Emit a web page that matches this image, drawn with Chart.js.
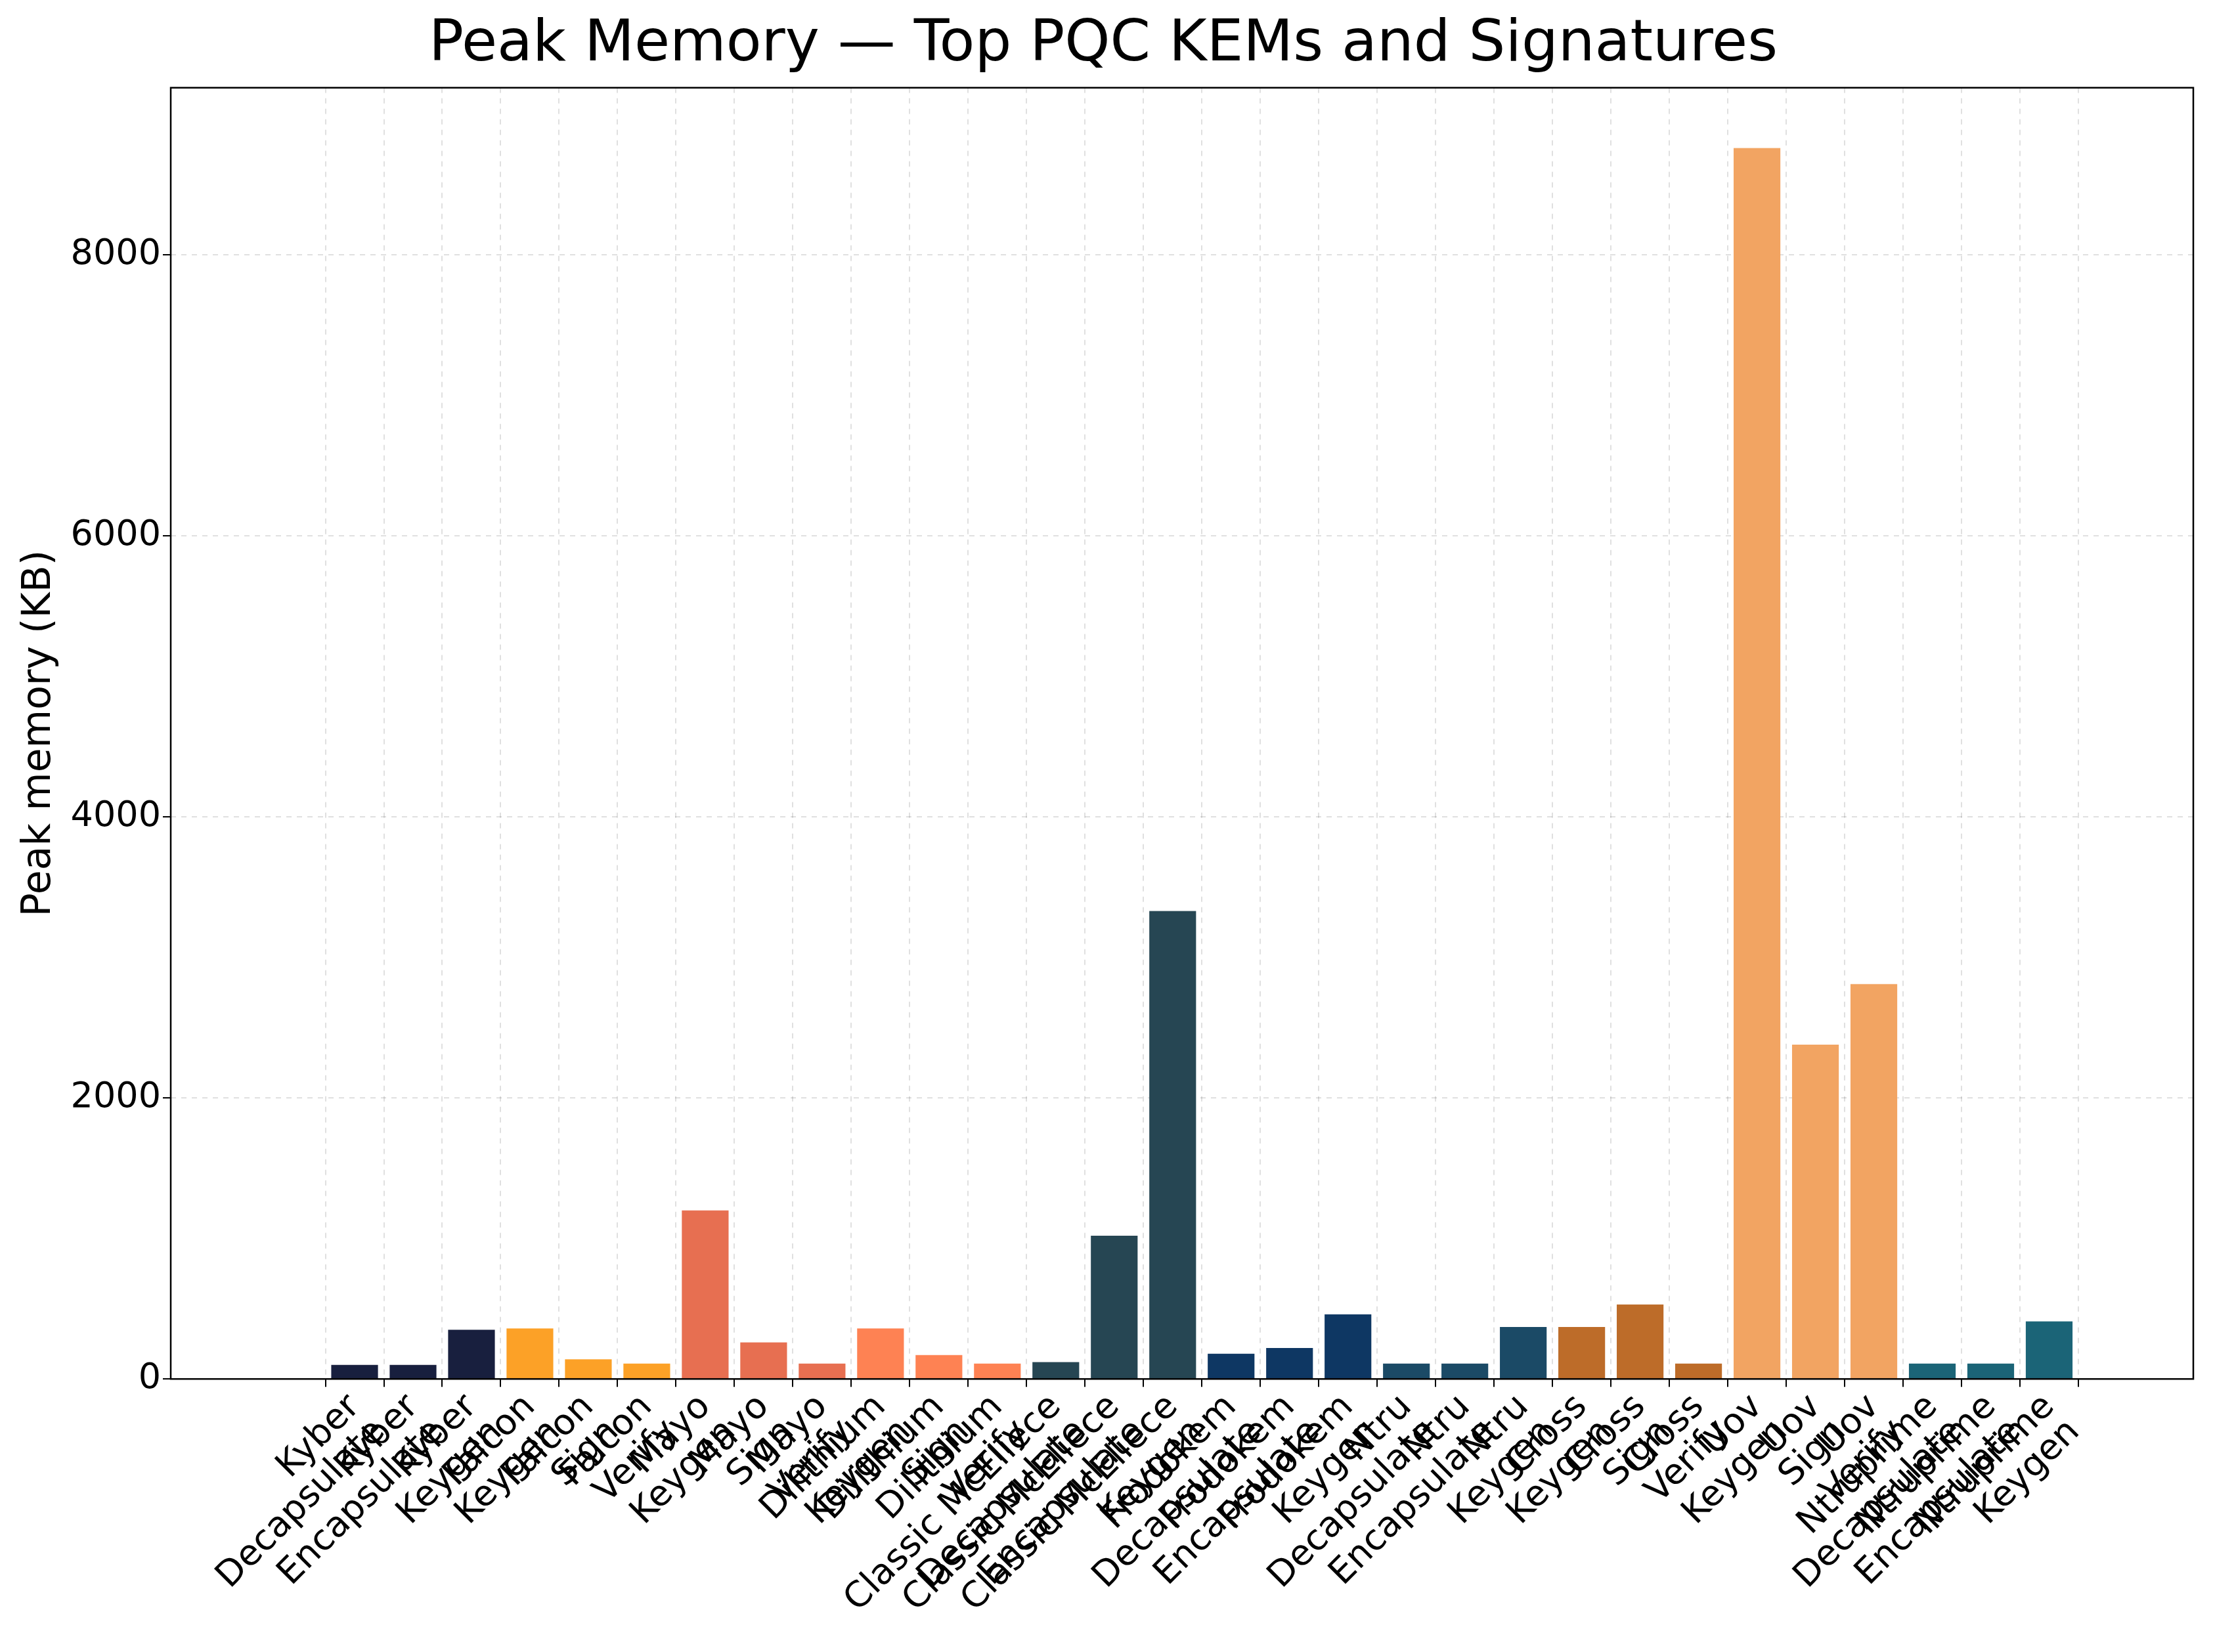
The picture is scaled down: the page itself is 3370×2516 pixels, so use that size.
<!DOCTYPE html>
<html><head><meta charset="utf-8">
<script src="https://cdn.jsdelivr.net/npm/chart.js@4/dist/chart.umd.min.js"></script>
<style>html,body{margin:0;background:#fff}#wrap{width:3370px;height:2516px}</style>
</head><body><div id="wrap"><canvas id="c"></canvas></div>
<script>
const algos = ['Kyber','Kyber','Kyber','Falcon','Falcon','Falcon','Mayo','Mayo','Mayo','Dilithium','Dilithium','Dilithium',
  'Classic McEliece','Classic McEliece','Classic McEliece','Frodokem','Frodokem','Frodokem','Ntru','Ntru','Ntru',
  'Cross','Cross','Cross','Uov','Uov','Uov','Ntruprime','Ntruprime','Ntruprime'];
const ops = ['Decapsulate','Encapsulate','Keygen','Keygen','Sign','Verify','Keygen','Sign','Verify','Keygen','Sign','Verify',
  'Decapsulate','Encapsulate','Keygen','Decapsulate','Encapsulate','Keygen','Decapsulate','Encapsulate','Keygen',
  'Keygen','Sign','Verify','Keygen','Sign','Verify','Decapsulate','Encapsulate','Keygen'];
const peakKB = [100,100,350, 360,140,110, 1200,260,110, 360,170,110, 120,1020,3330, 180,220,460, 110,110,370,
  370,530,110, 8760,2380,2810, 110,110,410];
const groupColors = {'Kyber':'#181f3e','Falcon':'#fca127','Mayo':'#e76f51','Dilithium':'#fe8253','Classic McEliece':'#264653',
  'Frodokem':'#0e3763','Ntru':'#1b4a66','Cross':'#bd6c29','Uov':'#f2a462','Ntruprime':'#1b6477'};
const yTicks = [0,2000,4000,6000,8000];

const frame = {id:'frame', afterDraw(ch){const a=ch.chartArea,g=ch.ctx;g.save();g.strokeStyle='#000';g.lineWidth=2.5;
  g.strokeRect(a.left,a.top,a.right-a.left,a.bottom-a.top);g.restore();}};

new Chart(document.getElementById('c'), {
  type:'bar',
  data:{datasets:[{data:peakKB.map((v,i)=>({x:i,y:v})),backgroundColor:algos.map(a=>groupColors[a]),
    barPercentage:0.8,categoryPercentage:1}]},
  options:{responsive:true,maintainAspectRatio:false,animation:false,
    layout:{padding:{top:16,right:30,left:20,bottom:10}},
    plugins:{legend:{display:false},tooltip:{enabled:false},
      title:{display:true,text:'Peak Memory — Top PQC KEMs and Signatures',color:'#000',
        font:{family:'DejaVu Sans',size:88,weight:'normal'},padding:{top:0,bottom:12}}},
    scales:{
      x:{type:'linear',min:-2.57,max:30.89,
        afterBuildTicks(s){s.ticks=peakKB.map((_,i)=>({value:i}));},
        ticks:{autoSkip:false,maxRotation:45,minRotation:45,color:'#000',
          font:{family:'DejaVu Sans',size:54,lineHeight:1.0},callback:(v)=>[algos[v],ops[v]]},
        grid:{color:'rgba(0,0,0,0.12)',lineWidth:2,drawTicks:true,tickColor:'#000',tickLength:12},
        border:{dash:[8,8],display:false}},
      y:{min:0,max:9190,
        afterBuildTicks(s){s.ticks=yTicks.map(v=>({value:v}));},
        afterFit(s){s.width=240;},
        title:{display:true,text:'Peak memory (KB)',color:'#000',font:{family:'DejaVu Sans',size:60}},
        ticks:{color:'#000',font:{family:'DejaVu Sans',size:54},callback:(v)=>String(v)},
        grid:{color:'rgba(0,0,0,0.12)',lineWidth:2,tickColor:'#000',tickLength:12},
        border:{dash:[8,8],display:false}}
    }},
  plugins:[frame]
});
</script></body></html>
